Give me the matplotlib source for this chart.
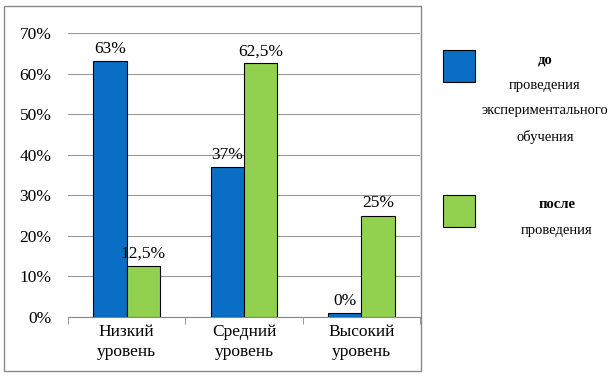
import numpy as np
import matplotlib.pyplot as plt
from matplotlib.patches import Rectangle

plt.rcParams['font.family'] = ['Liberation Serif', 'DejaVu Serif']

categories = ['Низкий\nуровень', 'Средний\nуровень', 'Высокий\nуровень']
before = [63, 37, 1]
after = [12.5, 62.5, 25]
before_labels = ['63%', '37%', '0%']
after_labels = ['12,5%', '62,5%', '25%']
series_names = ['до', 'после']
series_notes = ['проведения\nэкспериментального\nобучения', 'проведения']

blue = '#0a6ec4'
green = '#92d050'

fig = plt.figure(figsize=(6.14, 3.78), dpi=100)
ax = fig.add_axes([68/614, 1-317/378, 352/614, 284/378])

x = np.arange(len(categories))
w = 0.285
b1 = ax.bar(x - w/2, before, w, color=blue, edgecolor='black', linewidth=0.8, zorder=3)
b2 = ax.bar(x + w/2, after, w, color=green, edgecolor='black', linewidth=0.8, zorder=3)
ax.bar_label(b1, labels=before_labels, padding=3, fontsize=12.5)
ax.bar_label(b2, labels=after_labels, padding=3, fontsize=12.5)

ax.set_ylim(0, 70)
ax.set_xlim(-0.5, 2.5)
ax.set_yticks(range(0, 71, 10))
ax.set_yticklabels([f'{v}%' for v in range(0, 71, 10)], fontsize=12.5)
ax.set_xticks(x)
ax.set_xticklabels(categories, fontsize=12.5, linespacing=1.35)
ax.tick_params(axis='x', length=0, pad=5)
ax.tick_params(axis='y', length=0, pad=12)
ax.set_xticks([-0.5, 0.5, 1.5, 2.5], minor=True)
ax.tick_params(axis='x', which='minor', length=5, color='#888888')
ax.grid(axis='y', color='#999999', linewidth=0.8, zorder=0)
for s in ['top', 'right', 'left']:
    ax.spines[s].set_visible(False)
ax.spines['bottom'].set_color('#888888')

# outer chart border
fig.patches.append(Rectangle((4/614, 1-371/378), 417/614, 365/378, transform=fig.transFigure,
                             fill=False, edgecolor='#888888', linewidth=1))

# legend drawn by hand
sq_y = [50, 195]
text_x = [545, 557]
for name, note, col, yy, tx in zip(series_names, series_notes, [blue, green], sq_y, text_x):
    fig.patches.append(Rectangle((443/614, 1-(yy+32)/378), 32/614, 32/378, transform=fig.transFigure,
                                 facecolor=col, edgecolor='black', linewidth=0.8))
    fig.text(tx/614, 1-(yy+10)/378, name, fontsize=10.5, fontweight='bold',
             ha='center', va='center')
    fig.text(tx/614, 1-(yy+29)/378, note, fontsize=10.5,
             ha='center', va='top', linespacing=2.2)

fig.savefig('out.png', dpi=100)
